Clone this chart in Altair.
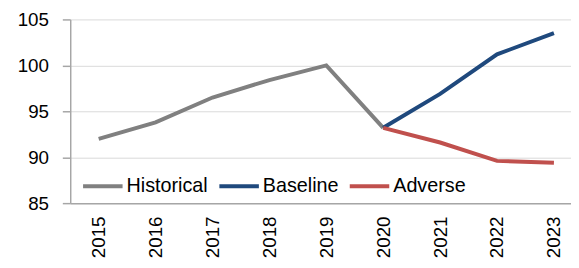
import altair as alt
import pandas as pd

years_hist = [2015, 2016, 2017, 2018, 2019, 2020]
hist_vals = [92.0, 93.8, 96.5, 98.4, 100.0, 93.2]
years_proj = [2020, 2021, 2022, 2023]
base_vals = [93.2, 96.9, 101.2, 103.5]
adv_vals = [93.2, 91.6, 89.6, 89.4]
series_names = ["Historical", "Baseline", "Adverse"]
series_colors = ["#808080", "#1F497D", "#C0504D"]
year_ticks = list(range(2015, 2024))

rows = []
for y, v in zip(years_hist, hist_vals):
    rows.append({"year": y, "value": v, "series": "Historical"})
for y, v in zip(years_proj, base_vals):
    rows.append({"year": y, "value": v, "series": "Baseline"})
for y, v in zip(years_proj, adv_vals):
    rows.append({"year": y, "value": v, "series": "Adverse"})
df = pd.DataFrame(rows)

FONT = "Liberation Sans"

chart = alt.Chart(df).mark_line(strokeWidth=4, clip=True).encode(
    x=alt.X("year:Q",
            scale=alt.Scale(domain=[2014.5, 2023.3], nice=False, zero=False),
            axis=alt.Axis(values=year_ticks, labelAngle=-90, labelAlign="right",
                          labelBaseline="middle", format="d", grid=False,
                          ticks=False, labelPadding=13, domainColor="#A6A6A6",
                          domainWidth=1.5, labelFontSize=19, labelColor="#000000",
                          labelFont=FONT, title=None)),
    y=alt.Y("value:Q",
            scale=alt.Scale(domain=[85, 105], nice=False, zero=False),
            axis=alt.Axis(values=[85, 90, 95, 100, 105], grid=True, gridColor="#D9D9D9",
                          gridWidth=1, domainColor="#A6A6A6", domainWidth=1.5,
                          tickColor="#A6A6A6", tickSize=8, tickWidth=1.5,
                          labelFontSize=19, labelColor="#000000", labelFont=FONT,
                          labelPadding=14, title=None)),
    color=alt.Color("series:N",
                    scale=alt.Scale(domain=series_names, range=series_colors),
                    legend=alt.Legend(orient="none", legendX=11, legendY=147,
                                      direction="horizontal", title=None,
                                      symbolType="stroke", symbolStrokeWidth=4,
                                      symbolSize=1600, labelFontSize=20,
                                      labelFont=FONT, labelColor="#000000",
                                      labelOffset=2, columnPadding=3)),
    detail="series:N",
).properties(
    width=507, height=186,
    autosize=alt.AutoSizeParams(type="none"),
    padding={"left": 63, "top": 10, "right": 0, "bottom": 56},
).configure_view(stroke=None)

chart.save("out.html", embed_options={"renderer": "svg", "actions": False})
